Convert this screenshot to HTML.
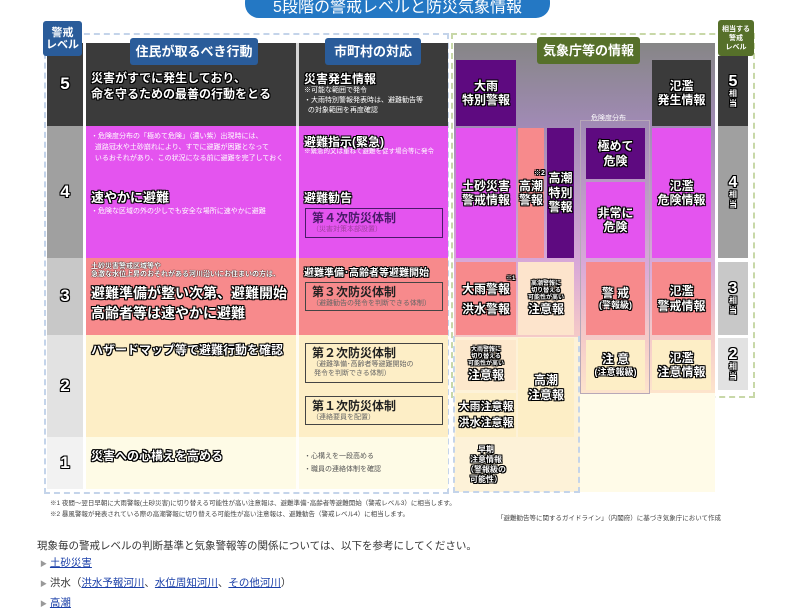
<!DOCTYPE html>
<html><head><meta charset="utf-8"><style>
*{margin:0;padding:0;box-sizing:border-box}
body{width:800px;height:600px;background:#fff;position:relative;overflow:hidden;font-family:"Liberation Sans","Noto Sans CJK JP",sans-serif;color:#222}
.a{position:absolute}
.o{color:#fff;font-weight:bold;text-shadow:-1px -1px 0 #000,1px -1px 0 #000,-1px 1px 0 #000,1px 1px 0 #000,0 1px 0 #000,0 -1px 0 #000,1px 0 0 #000,-1px 0 0 #000}
.c{display:flex;align-items:center;justify-content:center;text-align:center;flex-direction:column;line-height:1.2}
.s{font-size:7px;color:#fff;line-height:11px}
.bx{border:1px solid #444;background:transparent;font-size:12px;font-weight:bold;color:#222;padding:2px 6px;line-height:14px}
.bx span{display:block;font-size:7px;font-weight:normal;color:#666;line-height:9px}
.hd{background:#2a5c9a;color:#fff;font-size:13px;font-weight:bold;border-radius:3px}
a{color:#1a3fa8}
</style></head><body>
<div class="a c" style="left:245px;top:-12px;width:305px;height:30px;background:#2478c4;border-radius:14px;color:#fff;font-size:16px;padding-top:10px">5段階の警戒レベルと防災気象情報</div>

<div class="a" style="left:44px;top:33px;width:405px;height:461px;border:2px dashed #c4d4ea"></div>
<div class="a" style="left:451px;top:33px;width:304px;height:365px;border:2px dashed #c8d8a8"></div>

<div class="a c o" style="left:47px;top:43px;width:36px;height:83px;background:#3b3b3b;font-size:17px">5</div>
<div class="a c o" style="left:47px;top:126px;width:36px;height:132px;background:#a0a0a0;font-size:17px">4</div>
<div class="a c o" style="left:47px;top:258px;width:36px;height:77px;background:#c8c8c8;font-size:17px">3</div>
<div class="a c o" style="left:47px;top:335px;width:36px;height:102px;background:#e2e2e2;font-size:17px">2</div>
<div class="a c o" style="left:47px;top:437px;width:36px;height:52px;background:#f2f2f2;font-size:17px">1</div>
<div class="a c" style="left:43px;top:21px;width:39px;height:35px;background:#2a5c9a;border-radius:3px;color:#fff;font-size:11px;font-weight:bold;line-height:12px">警戒<br>レベル</div>

<div class="a" style="left:86px;top:43px;width:362px;height:83px;background:#3b3b3b"></div>
<div class="a" style="left:86px;top:126px;width:362px;height:132px;background:#e454ef"></div>
<div class="a" style="left:86px;top:258px;width:362px;height:77px;background:#f78a8c"></div>
<div class="a" style="left:86px;top:335px;width:362px;height:102px;background:#fdeec6"></div>
<div class="a" style="left:86px;top:437px;width:362px;height:52px;background:#fefbe6"></div>
<div class="a" style="left:296px;top:43px;width:3px;height:446px;background:#fff;opacity:.8"></div>
<div class="a hd c" style="left:130px;top:38px;width:128px;height:27px">住民が取るべき行動</div>
<div class="a hd c" style="left:325px;top:38px;width:96px;height:27px">市町村の対応</div>

<div class="a o" style="left:91px;top:70px;font-size:12px;line-height:16px">災害がすでに発生しており、<br>命を守るための最善の行動をとる</div>
<div class="a s" style="left:91px;top:131px">・危険度分布の「極めて危険」（濃い紫）出現時には、<br>&nbsp;&nbsp;道路冠水や土砂崩れにより、すでに避難が困難となって<br>&nbsp;&nbsp;いるおそれがあり、この状況になる前に避難を完了しておく</div>
<div class="a o" style="left:91px;top:187px;font-size:13px">速やかに避難</div>
<div class="a s" style="left:91px;top:206px">・危険な区域の外の少しでも安全な場所に速やかに避難</div>
<div class="a s o" style="left:91px;top:263px;font-size:7px;line-height:8px;text-shadow:0 0 1px #000,0 0 1px #000">土砂災害警戒区域等や<br>急激な水位上昇のおそれがある河川沿いにお住まいの方は、</div>
<div class="a o" style="left:91px;top:283px;font-size:14px;line-height:20px">避難準備が整い次第、避難開始<br>高齢者等は速やかに避難</div>
<div class="a o" style="left:91px;top:341px;font-size:12px">ハザードマップ等で避難行動を確認</div>
<div class="a o" style="left:91px;top:447px;font-size:12px">災害への心構えを高める</div>

<div class="a o" style="left:304px;top:70px;font-size:12px">災害発生情報</div>
<div class="a s" style="left:304px;top:86px;line-height:10px">※可能な範囲で発令<br>・大雨特別警報発表時は、避難勧告等<br>&nbsp;&nbsp;の対象範囲を再度確認</div>
<div class="a o" style="left:304px;top:133px;font-size:12px">避難指示(緊急)</div>
<div class="a s" style="left:304px;top:146px;font-size:6.5px">※緊急的又は重ねて避難を促す場合等に発令</div>
<div class="a o" style="left:304px;top:189px;font-size:12px">避難勧告</div>
<div class="a bx" style="left:305px;top:208px;width:138px;height:30px;border-color:#4a1a6a;color:#4a1a6a">第４次防災体制<span style="color:#a040a0">（災害対策本部設置）</span></div>
<div class="a o" style="left:304px;top:264px;font-size:10px">避難準備･高齢者等避難開始</div>
<div class="a bx" style="left:305px;top:282px;width:138px;height:29px">第３次防災体制<span>（避難勧告の発令を判断できる体制）</span></div>
<div class="a bx" style="left:305px;top:343px;width:138px;height:40px">第２次防災体制<span>（避難準備･高齢者等避難開始の<br>&nbsp;発令を判断できる体制）</span></div>
<div class="a bx" style="left:305px;top:396px;width:138px;height:29px">第１次防災体制<span>（連絡要員を配置）</span></div>
<div class="a" style="left:304px;top:450px;font-size:7px;color:#555;line-height:13px">・心構えを一段高める<br>・職員の連絡体制を確認</div>

<div class="a" style="left:454px;top:43px;width:261px;height:350px;background:linear-gradient(#868686 0px,#a08ab4 80px,#d8a8d8 220px,#f4c8c8 290px,#fde4cc 350px)"></div>
<div class="a" style="left:454px;top:337px;width:126px;height:155px;background:#fdf2d8"></div>
<div class="a" style="left:580px;top:393px;width:135px;height:99px;background:#fffbe8"></div>
<div class="a" style="left:453px;top:336px;width:127px;height:157px;border:2px dashed #c4d4ea;border-top:none"></div>
<div class="a" style="left:580px;top:120px;width:70px;height:274px;border:1px solid #b8a8b8"></div>
<div class="a hd c" style="left:537px;top:37px;width:103px;height:27px;background:#56702a">気象庁等の情報</div>
<div class="a c" style="left:718px;top:20px;width:36px;height:36px;background:#56702a;border-radius:3px;color:#fff;font-size:7px;font-weight:bold;line-height:9px">相当する<br>警戒<br>レベル</div>

<div class="a c o" style="left:456px;top:60px;width:60px;height:66px;background:#5e0a80;font-size:12px">大雨<br>特別警報</div>
<div class="a c o" style="left:652px;top:60px;width:59px;height:66px;background:#3b3b3b;font-size:12px">氾濫<br>発生情報</div>
<div class="a" style="left:591px;top:113px;font-size:7px;color:#fff">危険度分布</div>
<div class="a c o" style="left:456px;top:128px;width:60px;height:130px;background:#e454ef;font-size:12px">土砂災害<br>警戒情報</div>
<div class="a c o" style="left:518px;top:128px;width:26px;height:130px;background:#f78a8c;font-size:12px">高潮<br>警報</div>
<div class="a o" style="left:534px;top:168px;font-size:7px">※2</div>
<div class="a c o" style="left:547px;top:128px;width:27px;height:130px;background:#5e0a80;font-size:12px">高潮<br>特別<br>警報</div>
<div class="a c o" style="left:586px;top:128px;width:59px;height:51px;background:#5e0a80;font-size:12px">極めて<br>危険</div>
<div class="a c o" style="left:586px;top:182px;width:59px;height:76px;background:#e454ef;font-size:12px">非常に<br>危険</div>
<div class="a c o" style="left:652px;top:128px;width:59px;height:130px;background:#e454ef;font-size:12px">氾濫<br>危険情報</div>

<div class="a c o" style="left:456px;top:262px;width:60px;height:73px;background:#f78a8c;font-size:12px;line-height:20px">大雨警報<br>洪水警報</div>
<div class="a o" style="left:506px;top:273px;font-size:6px">※1</div>
<div class="a c" style="left:518px;top:262px;width:56px;height:73px;background:#fde4cc"><div class="o" style="font-size:6px;line-height:7px">高潮警報に<br>切り替える<br>可能性が高い</div><div class="o" style="font-size:12px">注意報</div></div>
<div class="a c o" style="left:586px;top:262px;width:59px;height:73px;background:#f78a8c;font-size:12px">警 戒<span style="font-size:9px">(警報級)</span></div>
<div class="a c o" style="left:652px;top:262px;width:59px;height:73px;background:#f78a8c;font-size:12px">氾濫<br>警戒情報</div>

<div class="a c" style="left:456px;top:340px;width:60px;height:50px;background:#fde8cc"><div class="o" style="font-size:6px;line-height:7px">大雨警報に<br>切り替える<br>可能性が高い</div><div class="o" style="font-size:12px">注意報</div></div>
<div class="a c o" style="left:456px;top:393px;width:60px;height:44px;background:#fdeec6;font-size:11px;line-height:16px">大雨注意報<br>洪水注意報</div>
<div class="a c o" style="left:456px;top:440px;width:60px;height:50px;background:#fdf2d8;font-size:8px;line-height:10px">早期<br>注意情報<br>（警報級の<br>可能性）</div>
<div class="a c o" style="left:518px;top:338px;width:56px;height:99px;background:#fdeec6;font-size:12px">高潮<br>注意報</div>
<div class="a c o" style="left:586px;top:340px;width:59px;height:50px;background:#fdeec6;font-size:12px">注 意<span style="font-size:9px">(注意報級)</span></div>
<div class="a c o" style="left:652px;top:340px;width:59px;height:50px;background:#fdeec6;font-size:12px">氾濫<br>注意情報</div>

<div class="a c o" style="left:718px;top:56px;width:30px;height:70px;background:#3b3b3b;font-size:16px;line-height:15px">5<span style="font-size:8px;line-height:10px">相<br>当</span></div>
<div class="a c o" style="left:718px;top:126px;width:30px;height:132px;background:#a0a0a0;font-size:16px;line-height:15px">4<span style="font-size:8px;line-height:10px">相<br>当</span></div>
<div class="a c o" style="left:718px;top:262px;width:30px;height:73px;background:#c8c8c8;font-size:16px;line-height:15px">3<span style="font-size:8px;line-height:10px">相<br>当</span></div>
<div class="a c o" style="left:718px;top:338px;width:30px;height:52px;background:#e2e2e2;font-size:16px;line-height:15px">2<span style="font-size:8px;line-height:10px">相<br>当</span></div>

<div class="a" style="left:50px;top:498px;font-size:6.5px;color:#444;line-height:11px">※1 夜間～翌日早朝に大雨警報(土砂災害)に切り替える可能性が高い注意報は、避難準備･高齢者等避難開始（警戒レベル3）に相当します。<br>※2 暴風警報が発表されている際の高潮警報に切り替える可能性が高い注意報は、避難勧告（警戒レベル4）に相当します。</div>
<div class="a" style="left:497px;top:512px;font-size:6.5px;color:#444">「避難勧告等に関するガイドライン」（内閣府）に基づき気象庁において作成</div>

<div class="a" style="left:37px;top:538px;font-size:10.5px;color:#333">現象毎の警戒レベルの判断基準と気象警報等の関係については、以下を参考にしてください。</div>
<div class="a" style="left:40px;top:554px;font-size:10.5px;color:#333;line-height:19px"><span style="color:#999;font-size:7px">▶</span> <a href="#">土砂災害</a><br><span style="color:#999;font-size:7px">▶</span> 洪水（<a href="#">洪水予報河川</a>、<a href="#">水位周知河川</a>、<a href="#">その他河川</a>）<br><span style="color:#999;font-size:7px">▶</span> <a href="#">高潮</a></div>
</body></html>
